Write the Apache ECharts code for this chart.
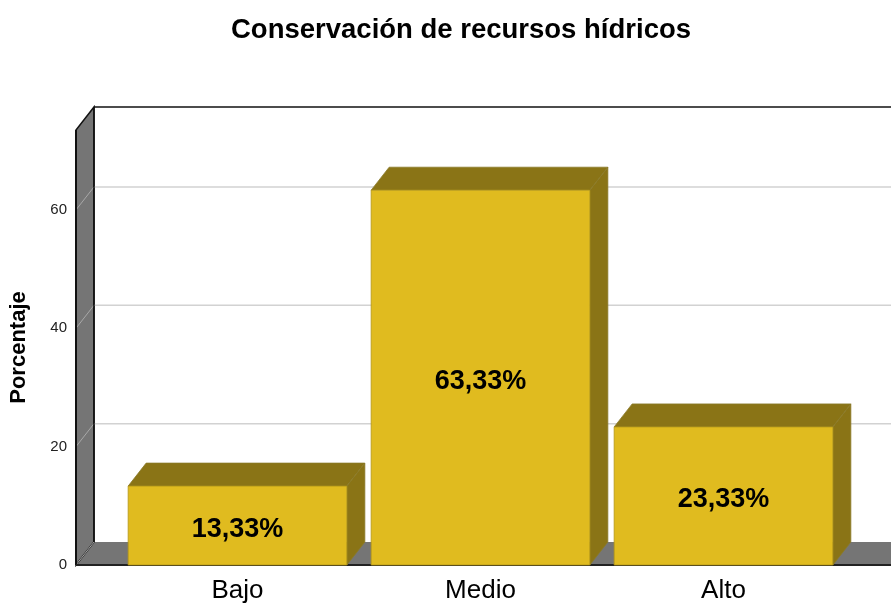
<!DOCTYPE html>
<html>
<head>
<meta charset="utf-8">
<script src="https://cdn.jsdelivr.net/npm/echarts@6/dist/echarts.min.js"></script>
<style>html,body{margin:0;padding:0;background:#fff}#c{width:891px;height:604px}</style>
</head>
<body>
<div id="c"></div>
<script>
const categories = ['Bajo', 'Medio', 'Alto'];
const percentages = [13.33, 63.33, 23.33];
const yTicks = [0, 20, 40, 60];
const titleText = 'Conservación de recursos hídricos';
const yAxisTitle = 'Porcentaje';

const FONT = '"Liberation Sans", Arial, sans-serif';
const DX = 18, DY = -23;           // depth offset of the 3D look
const FRONT_GAP = 40;              // distance from front axis to first band
const BAR_RATIO = 0.9;
const FRONT = '#E0BB1F', TOP = '#8A7416', SIDE = '#8A7416', EDGE = '#8a7a2a';
const WALL = '#757575';

function fmt(v) { return v.toFixed(2).replace('.', ',') + '%'; }

const chart = echarts.init(document.getElementById('c'), null, { renderer: 'canvas' });

function renderWalls(params, api) {
  const cs = params.coordSys;
  const W = api.getWidth();
  const fl = cs.x - FRONT_GAP;
  const y0 = api.coord([0, 0])[1];
  const yt = cs.y;
  const children = [];
  // floor
  children.push({ type: 'polygon', shape: { points: [[fl, y0], [W + 60, y0], [W + 60 + DX, y0 + DY], [fl + DX, y0 + DY]] },
    style: { fill: WALL, stroke: null } });
  // side wall
  children.push({ type: 'polygon', shape: { points: [[fl, yt], [fl, y0], [fl + DX, y0 + DY], [fl + DX, yt + DY]] },
    style: { fill: WALL, stroke: '#111', lineWidth: 1.5 } });
  // gridlines
  yTicks.forEach(t => {
    const y = api.coord([0, t])[1];
    if (t > 0) {
      children.push({ type: 'line', shape: { x1: fl + DX, y1: y + DY, x2: W + 10, y2: y + DY },
        style: { stroke: '#d2d2d2', lineWidth: 1.5 } });
    }
    children.push({ type: 'line', shape: { x1: fl, y1: y, x2: fl + DX, y2: y + DY },
      style: { stroke: '#a8a8a8', lineWidth: 1 } });
  });
  // back wall top edge and left edge
  children.push({ type: 'line', shape: { x1: fl + DX, y1: yt + DY, x2: W + 10, y2: yt + DY },
    style: { stroke: '#111', lineWidth: 1.5 } });
  children.push({ type: 'line', shape: { x1: fl + DX, y1: yt + DY, x2: fl + DX, y2: y0 + DY },
    style: { stroke: '#111', lineWidth: 1.5 } });
  // front edges
  children.push({ type: 'line', shape: { x1: fl, y1: yt, x2: fl, y2: y0 },
    style: { stroke: '#111', lineWidth: 2 } });
  children.push({ type: 'line', shape: { x1: fl, y1: y0, x2: W + 60, y2: y0 },
    style: { stroke: '#222', lineWidth: 2 } });
  return { type: 'group', children };
}

function renderBar(params, api) {
  const i = api.value(0), v = api.value(1);
  const top = api.coord([i, v]);
  const base = api.coord([i, 0]);
  const bw = api.size([1, 0])[0] * BAR_RATIO;
  const xl = top[0] - bw / 2, xr = top[0] + bw / 2;
  const yt = top[1], yb = base[1];
  return {
    type: 'group',
    children: [
      { type: 'polygon', shape: { points: [[xl, yt], [xl + DX, yt + DY], [xr + DX, yt + DY], [xr, yt]] },
        style: { fill: TOP, stroke: EDGE, lineWidth: 0.8 } },
      { type: 'polygon', shape: { points: [[xr, yt], [xr + DX, yt + DY], [xr + DX, yb + DY], [xr, yb]] },
        style: { fill: SIDE, stroke: EDGE, lineWidth: 0.8 } },
      { type: 'rect', shape: { x: xl, y: yt, width: bw, height: yb - yt },
        style: { fill: FRONT, stroke: '#b39516', lineWidth: 0.8 },
        textContent: { style: { text: fmt(v), font: 'bold 27px ' + FONT, fill: '#000' } },
        textConfig: { position: 'inside', offset: [0, 4] } }
    ]
  };
}

chart.setOption({
  animation: false,
  title: {
    text: titleText, left: 226, top: 11,
    textStyle: { fontFamily: FONT, fontSize: 27.5, fontWeight: 'bold', color: '#000' }
  },
  grid: { left: 116, right: 46, top: 130, bottom: 38 },
  xAxis: {
    type: 'category', data: categories,
    axisLine: { show: false }, axisTick: { show: false }, splitLine: { show: false },
    axisLabel: { fontFamily: FONT, fontSize: 26, color: '#000', margin: 13 }
  },
  yAxis: {
    type: 'value', min: 0, max: 73.5, interval: 20,
    name: yAxisTitle, nameLocation: 'middle', nameGap: 86,
    nameTextStyle: { fontFamily: FONT, fontSize: 22, fontWeight: 'bold', color: '#000' },
    axisLine: { show: false }, axisTick: { show: false }, splitLine: { show: false },
    axisLabel: { fontFamily: FONT, fontSize: 15, color: '#222', margin: 49, showMaxLabel: false,
      formatter: v => (yTicks.indexOf(v) >= 0 ? String(v) : '') }
  },
  series: [
    { type: 'custom', name: 'walls', renderItem: renderWalls, data: [[0, 0]], clip: false, z: 1, silent: true },
    { type: 'custom', name: 'Porcentaje', renderItem: renderBar,
      data: percentages.map((v, i) => [i, v]), encode: { x: 0, y: 1 }, clip: false, z: 2 }
  ]
});
</script>
</body>
</html>
